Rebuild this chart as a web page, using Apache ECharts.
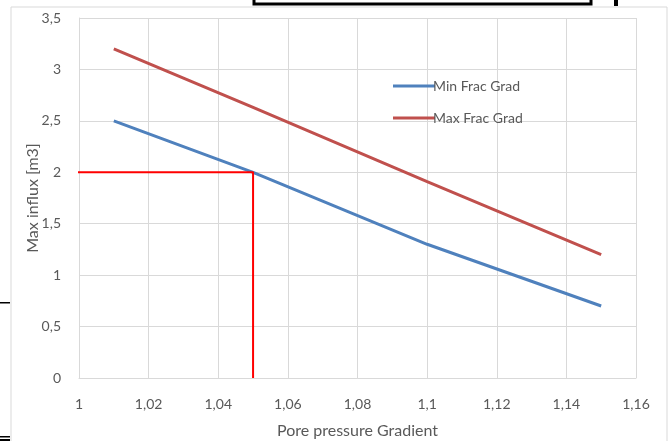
<!DOCTYPE html>
<html>
<head>
<meta charset="utf-8">
<script src="https://cdn.jsdelivr.net/npm/echarts@6/dist/echarts.min.js"></script>
<style>
html,body{margin:0;padding:0;background:#fff;}
#c{width:669px;height:441px;}
</style>
</head>
<body>
<div id="c"></div>
<script>
const poreGradient = [1.01, 1.05, 1.10, 1.15];
const minFracGrad = [2.5, 2.0, 1.3, 0.7];
const maxFracGrad = [3.2, 2.63, 1.91, 1.2];
const refX = [0.999, 1.05, 1.05];
const refY = [2, 2, 0];
const seriesNames = ['Min Frac Grad', 'Max Frac Grad'];
const xAxisTitle = 'Pore pressure Gradient';
const yAxisTitle = 'Max influx [m3]';

const font = 'Lato, "Open Sans", sans-serif';
const fmt = v => parseFloat(v.toFixed(2)).toString().replace('.', ',');
const pairs = (xs, ys) => xs.map((x, i) => [x, ys[i]]);

const chart = echarts.init(document.getElementById('c'), null, {renderer: 'canvas'});
chart.setOption({
  animation: false,
  backgroundColor: '#ffffff',
  textStyle: {fontFamily: font},
  grid: {left: 79, right: 33, top: 18, bottom: 63, containLabel: false, outerBoundsMode: 'none'},
  xAxis: {
    type: 'value', min: 1, max: 1.16, interval: 0.02,
    name: xAxisTitle, nameLocation: 'middle', nameGap: 45,
    nameTextStyle: {color: '#595959', fontSize: 16, fontFamily: font},
    axisLine: {show: true, lineStyle: {color: '#d9d9d9'}},
    axisTick: {show: false},
    splitLine: {show: true, lineStyle: {color: '#d9d9d9', width: 1}},
    axisLabel: {color: '#595959', fontSize: 14, fontFamily: font, margin: 19, formatter: fmt}
  },
  yAxis: {
    type: 'value', min: 0, max: 3.5, interval: 0.5,
    name: yAxisTitle, nameLocation: 'middle', nameGap: 38, nameRotate: 90, nameMoveOverlap: false,
    nameTextStyle: {color: '#595959', fontSize: 16, fontFamily: font},
    axisLine: {show: true, lineStyle: {color: '#d9d9d9'}},
    axisTick: {show: false},
    splitLine: {show: true, lineStyle: {color: '#d9d9d9', width: 1}},
    axisLabel: {color: '#595959', fontSize: 14, fontFamily: font, margin: 18, formatter: fmt}
  },
  legend: {
    orient: 'vertical', left: 388, top: 74, itemGap: 18,
    itemWidth: 42, itemHeight: 3, icon: 'rect',
    textStyle: {color: '#595959', fontSize: 14, fontFamily: font, padding: [0, 0, 0, -7]},
    data: seriesNames
  },
  series: [
    {
      name: seriesNames[0], type: 'line', data: pairs(poreGradient, minFracGrad),
      symbol: 'none', lineStyle: {color: '#4f81bd', width: 3}, itemStyle: {color: '#4f81bd'}, z: 3
    },
    {
      name: seriesNames[1], type: 'line', data: pairs(poreGradient, maxFracGrad),
      symbol: 'none', lineStyle: {color: '#c0504d', width: 3}, itemStyle: {color: '#c0504d'}, z: 3
    },
    {
      name: 'ref', type: 'line', data: pairs(refX, refY), clip: false,
      symbol: 'none', lineStyle: {color: '#ff0000', width: 2}, z: 4
    }
  ],
  graphic: [
    {type: 'rect', shape: {x: 11, y: 7, width: 656, height: 460}, style: {fill: 'none', stroke: '#d9d9d9', lineWidth: 1}, z: -1},
    {type: 'rect', shape: {x: 254, y: -10, width: 337, height: 14}, style: {fill: 'none', stroke: '#000', lineWidth: 3}},
    {type: 'rect', shape: {x: 614, y: 0, width: 4, height: 6}, style: {fill: '#000'}},
    {type: 'rect', shape: {x: 0, y: 302, width: 10, height: 1.5}, style: {fill: '#000'}},
    {type: 'rect', shape: {x: 0, y: 436, width: 10, height: 1.5}, style: {fill: '#000'}},
    {type: 'rect', shape: {x: 0, y: 439, width: 10, height: 2}, style: {fill: '#000'}}
  ]
});
</script>
</body>
</html>
